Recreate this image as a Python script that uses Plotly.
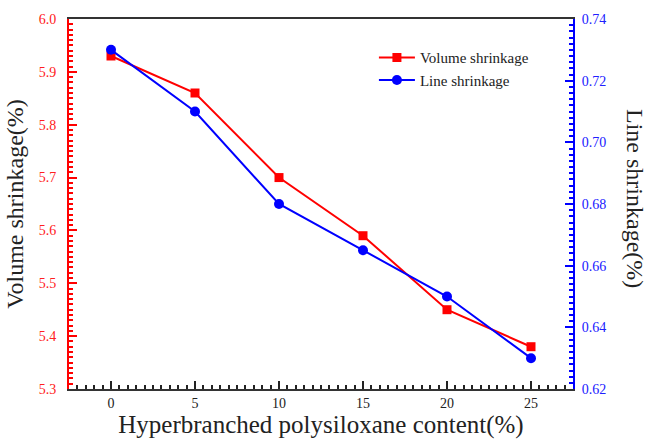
import plotly.graph_objects as go

content = [0, 5, 10, 15, 20, 25]
volume_shrinkage = [5.93, 5.86, 5.70, 5.59, 5.45, 5.38]
line_shrinkage = [0.730, 0.710, 0.680, 0.665, 0.650, 0.630]

FONT = "Liberation Serif"

fig = go.Figure()
fig.add_trace(go.Scatter(
    x=content, y=volume_shrinkage, name="Volume shrinkage",
    mode="lines+markers",
    line=dict(color="#ff0000", width=2),
    marker=dict(symbol="square", size=9, color="#ff0000"),
    yaxis="y"))
fig.add_trace(go.Scatter(
    x=content, y=line_shrinkage, name="Line shrinkage",
    mode="lines+markers",
    line=dict(color="#0000ff", width=2),
    marker=dict(symbol="circle", size=10, color="#0000ff"),
    yaxis="y2"))

fig.update_layout(
    template="none",
    width=650, height=442,
    margin=dict(l=69, r=77, t=19, b=53),
    paper_bgcolor="white", plot_bgcolor="white",
    font=dict(family=FONT, color="black"),
    showlegend=True,
    legend=dict(x=0.605, y=0.94, xanchor="left", yanchor="top",
                bgcolor="rgba(0,0,0,0)", font=dict(family=FONT, size=15, color="#222222"),
                tracegroupgap=2, itemwidth=36),
    xaxis=dict(
        range=[-2.5, 27.5], tickmode="linear", tick0=0, dtick=5,
        showgrid=False, zeroline=False,
        showline=True, linecolor="#333333", linewidth=2, mirror=True,
        ticks="inside", ticklen=8, tickwidth=2, tickcolor="#222222",
        minor=dict(ticks="inside", ticklen=4, tickwidth=2, tickcolor="#222222",
                   nticks=12, showgrid=False),
        tickfont=dict(family=FONT, size=14, color="#222222"),
        title=dict(text="Hyperbranched polysiloxane content(%)",
                   font=dict(family=FONT, size=25, color="#222222"), standoff=4),
    ),
    yaxis=dict(
        range=[5.3, 6.0], tickmode="linear", tick0=5.3, dtick=0.1, tickformat=".1f",
        showgrid=False, zeroline=False,
        showline=True, linecolor="#ff0000", linewidth=2,
        ticks="inside", ticklen=8, tickwidth=2, tickcolor="#ff0000",
        minor=dict(ticks="inside", ticklen=4, tickwidth=2, tickcolor="#ff0000",
                   nticks=16, showgrid=False),
        tickfont=dict(family=FONT, size=14, color="#ff2020"),
        ticklabelstandoff=8,
        title=dict(text="Volume shrinkage(%)", font=dict(family=FONT, size=24, color="#222222"), standoff=8),
    ),
    yaxis2=dict(
        overlaying="y", side="right",
        range=[0.62, 0.74], tickmode="linear", tick0=0.62, dtick=0.02, tickformat=".2f",
        showgrid=False, zeroline=False,
        showline=True, linecolor="#0000ff", linewidth=2,
        ticks="inside", ticklen=8, tickwidth=2, tickcolor="#0000ff",
        minor=dict(ticks="inside", ticklen=4, tickwidth=2, tickcolor="#0000ff",
                   nticks=14, showgrid=False),
        tickfont=dict(family=FONT, size=14, color="#2020ff"),
        ticklabelstandoff=4,
    ),
    annotations=[dict(
        text="Line shrinkage(%)", textangle=90, showarrow=False,
        xref="paper", yref="paper", x=1.0, y=0.5, xanchor="center", yanchor="middle",
        xshift=62, yshift=6, font=dict(family=FONT, size=24, color="#222222"))],
)

fig.write_html("out.html")
